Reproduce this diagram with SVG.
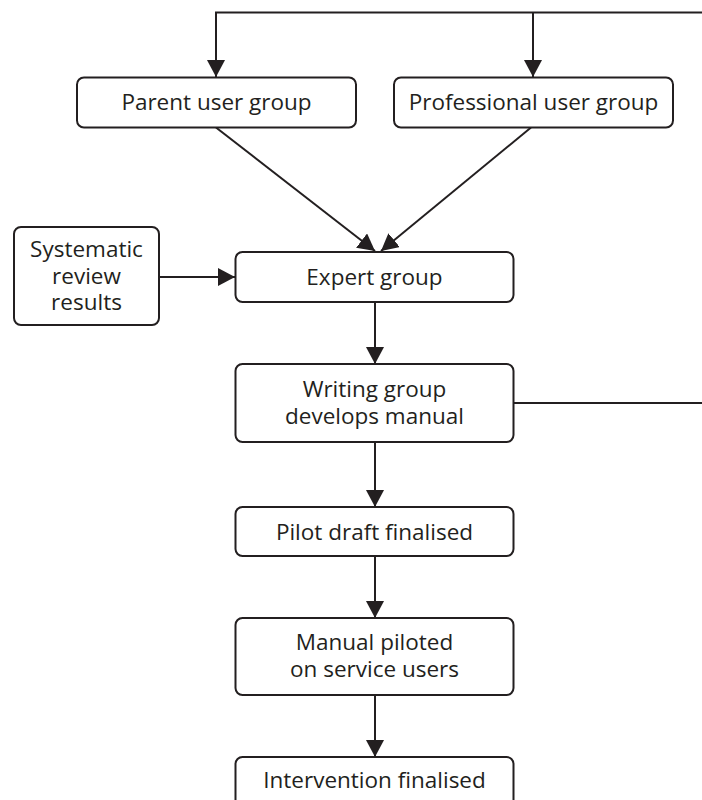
<svg xmlns="http://www.w3.org/2000/svg" width="702" height="800" viewBox="0 0 702 800">
  <style>
    .box { fill: #ffffff; stroke: #231f20; stroke-width: 2; }
    .lbl { font-family: "Open Sans", "Noto Sans", "Liberation Sans", sans-serif; font-size: 22.5px; fill: #231f20; text-anchor: middle; }
    .conn { fill: none; stroke: #231f20; stroke-width: 2; }
  </style>
  <defs>
    <marker id="arrow" viewBox="0 0 17 18" refX="17" refY="9" markerWidth="17" markerHeight="18" markerUnits="userSpaceOnUse" orient="auto">
      <path d="M0,0 L17,9 L0,18 Z" fill="#231f20"/>
    </marker>
  </defs>
  <rect width="702" height="800" fill="#ffffff"/>

  <g id="connectors">
    <polyline class="conn" points="702,12.5 216,12.5 216,77" marker-end="url(#arrow)"/>
    <line class="conn" x1="533" y1="12.5" x2="533" y2="77" marker-end="url(#arrow)"/>
    <line class="conn" x1="216" y1="127.5" x2="375" y2="251" marker-end="url(#arrow)"/>
    <line class="conn" x1="531" y1="127.5" x2="381" y2="251" marker-end="url(#arrow)"/>
    <line class="conn" x1="159" y1="277" x2="235" y2="277" marker-end="url(#arrow)"/>
    <line class="conn" x1="375" y1="302" x2="375" y2="364" marker-end="url(#arrow)"/>
    <line class="conn" x1="514" y1="403" x2="702" y2="403"/>
    <line class="conn" x1="375" y1="442" x2="375" y2="507" marker-end="url(#arrow)"/>
    <line class="conn" x1="375" y1="556" x2="375" y2="618" marker-end="url(#arrow)"/>
    <line class="conn" x1="375" y1="695" x2="375" y2="757" marker-end="url(#arrow)"/>
  </g>

  <g id="parent-user-group">
    <rect class="box" x="77" y="77.5" width="279" height="50" rx="7"/>
    <text class="lbl" x="216.5" y="110">Parent user group</text>
  </g>
  <g id="professional-user-group">
    <rect class="box" x="394" y="77.5" width="279" height="50" rx="7"/>
    <text class="lbl" x="533.5" y="110">Professional user group</text>
  </g>
  <g id="systematic-review-results">
    <rect class="box" x="14" y="227" width="145" height="98" rx="7"/>
    <text class="lbl" x="86.5" y="257">Systematic</text>
    <text class="lbl" x="86.5" y="283.5">review</text>
    <text class="lbl" x="86.5" y="310">results</text>
  </g>
  <g id="expert-group">
    <rect class="box" x="235.5" y="252" width="278" height="50" rx="7"/>
    <text class="lbl" x="374.5" y="284.5">Expert group</text>
  </g>
  <g id="writing-group">
    <rect class="box" x="235.5" y="364" width="278" height="78" rx="7"/>
    <text class="lbl" x="374.5" y="397">Writing group</text>
    <text class="lbl" x="374.5" y="423.5">develops manual</text>
  </g>
  <g id="pilot-draft">
    <rect class="box" x="235.5" y="507" width="278" height="49" rx="7"/>
    <text class="lbl" x="374.5" y="539.5">Pilot draft finalised</text>
  </g>
  <g id="manual-piloted">
    <rect class="box" x="235.5" y="618" width="278" height="77" rx="7"/>
    <text class="lbl" x="374.5" y="650">Manual piloted</text>
    <text class="lbl" x="374.5" y="677">on service users</text>
  </g>
  <g id="intervention-finalised">
    <rect class="box" x="235.5" y="757" width="278" height="60" rx="7"/>
    <text class="lbl" x="374.5" y="788">Intervention finalised</text>
  </g>
</svg>
